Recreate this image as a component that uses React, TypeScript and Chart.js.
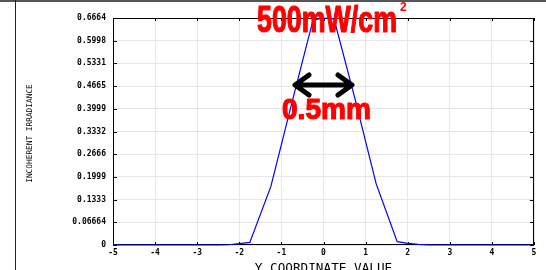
import React, { useEffect, useRef } from "react";
import { Chart, registerables } from "chart.js";

Chart.register(...registerables);

const xValues = [-5, -2.5, -2.25, -2, -1.75, -1.25, -0.75, -0.25, 0, 0.25, 0.75, 1.25, 1.75, 2, 2.25, 2.5, 5];
const irradiance = [0, 0, 0.0008, 0.004, 0.0075, 0.172, 0.418, 0.66, 0.6664, 0.664, 0.428, 0.18, 0.0097, 0.005, 0.002, 0.0005, 0];
const yTickValues = [0, 0.06664, 0.1333, 0.1999, 0.2666, 0.3332, 0.3999, 0.4665, 0.5331, 0.5998, 0.6664];
const yTickLabels = ["0", "0.06664", "0.1333", "0.1999", "0.2666", "0.3332", "0.3999", "0.4665", "0.5331", "0.5998", "0.6664"];
const yAxisTitle = "INCOHERENT IRRADIANCE";
const xAxisTitle = "Y COORDINATE VALUE";
const powerLabel = "500mW/cm";
const powerSup = "2";
const widthLabel = "0.5mm";

const tickFont = { family: "DejaVu Sans Mono", size: 8, weight: "bold" as const };

function drawFit(ctx: CanvasRenderingContext2D, text: string, x: number, y: number, size: number, target: number) {
  ctx.save();
  ctx.font = `bold ${size}px "Liberation Sans", Arial, sans-serif`;
  const w = ctx.measureText(text).width;
  ctx.translate(x, y);
  ctx.scale(target / w, 1);
  ctx.textAlign = "left";
  ctx.textBaseline = "alphabetic";
  ctx.lineWidth = 1.2;
  ctx.lineJoin = "round";
  ctx.strokeStyle = ctx.fillStyle as string;
  ctx.fillText(text, 0, 0);
  ctx.strokeText(text, 0, 0);
  ctx.restore();
}

const framePlugin = {
  id: "frame",
  beforeDatasetsDraw(chart: any) {
    const { ctx, chartArea } = chart;
    const { left, right, top, bottom } = chartArea;
    const xs = chart.scales.x;
    const ys = chart.scales.y;
    ctx.save();
    ctx.strokeStyle = "#000";
    ctx.lineWidth = 1;
    ctx.strokeRect(left + 0.5, top + 0.5, right - left - 1, bottom - top - 1);
    ctx.beginPath();
    xs.ticks.forEach((t: any) => {
      const px = Math.round(xs.getPixelForValue(t.value)) + 0.5;
      ctx.moveTo(px, top);
      ctx.lineTo(px, top + 3);
      ctx.moveTo(px, bottom);
      ctx.lineTo(px, bottom - 3);
    });
    ys.ticks.forEach((t: any) => {
      const py = Math.round(ys.getPixelForValue(t.value)) + 0.5;
      ctx.moveTo(left, py);
      ctx.lineTo(left + 4, py);
      ctx.moveTo(right, py);
      ctx.lineTo(right - 4, py);
    });
    ctx.stroke();
    ctx.restore();
  },
  afterDraw(chart: any) {
    const { ctx, chartArea } = chart;
    ctx.save();
    // outer frame
    ctx.fillStyle = "#555";
    ctx.fillRect(0, 0, chart.width, 2);
    ctx.strokeStyle = "#222";
    ctx.lineWidth = 1;
    ctx.beginPath();
    ctx.moveTo(15.5, 0);
    ctx.lineTo(15.5, chart.height);
    ctx.stroke();

    // axis titles
    ctx.fillStyle = "#000";
    ctx.font = `7.8px "DejaVu Sans Mono", monospace`;
    ctx.textAlign = "center";
    ctx.textBaseline = "middle";
    ctx.save();
    ctx.translate(30, (chartArea.top + chartArea.bottom) / 2 + 2);
    ctx.rotate(-Math.PI / 2);
    ctx.fillText(yAxisTitle, 0, 0);
    ctx.restore();
    ctx.font = `12.7px "DejaVu Sans Mono", monospace`;
    ctx.textBaseline = "alphabetic";
    ctx.fillText(xAxisTitle, (chartArea.left + chartArea.right) / 2, 272);

    // annotations
    ctx.fillStyle = "#ff0000";
    drawFit(ctx, powerLabel, 257, 31.5, 36, 140);
    ctx.font = `bold 12px "Liberation Sans", Arial, sans-serif`;
    ctx.textAlign = "left";
    ctx.fillText(powerSup, 400, 11);
    drawFit(ctx, widthLabel, 282, 118.5, 30, 89);

    ctx.strokeStyle = "#000";
    ctx.lineWidth = 5;
    ctx.lineCap = "round";
    ctx.lineJoin = "round";
    ctx.beginPath();
    ctx.moveTo(296, 85);
    ctx.lineTo(351, 85);
    ctx.moveTo(309, 75);
    ctx.lineTo(295, 85);
    ctx.lineTo(309, 95);
    ctx.moveTo(338, 75);
    ctx.lineTo(352, 85);
    ctx.lineTo(338, 95);
    ctx.stroke();
    ctx.restore();
  },
};

export default function App() {
  const ref = useRef<HTMLCanvasElement>(null);
  useEffect(() => {
    document.body.style.margin = "0";
    const canvas = ref.current;
    if (!canvas) return;
    const chart = new Chart(canvas, {
      type: "line",
      data: {
        datasets: [
          {
            data: xValues.map((x, i) => ({ x, y: irradiance[i] })),
            borderColor: "#0000ff",
            borderWidth: 1.2,
            pointRadius: 0,
            tension: 0,
            fill: false,
            clip: false as any,
          },
        ],
      },
      options: {
        responsive: false,
        animation: false,
        layout: { padding: { left: 0, right: 12, top: 18, bottom: 0 } },
        plugins: { legend: { display: false }, tooltip: { enabled: false } },
        scales: {
          x: {
            type: "linear",
            min: -5,
            max: 5,
            ticks: { stepSize: 1, font: tickFont, color: "#000", padding: 3, maxRotation: 0, callback: (v: any) => String(v) },
            grid: { color: "#e6e6e6", drawTicks: false },
            border: { display: false },
            afterFit: (s: any) => {
              s.height = 25;
            },
          },
          y: {
            type: "linear",
            min: 0,
            max: 0.6664,
            afterBuildTicks: (s: any) => {
              s.ticks = yTickValues.map((v) => ({ value: v }));
            },
            ticks: { font: tickFont, color: "#000", padding: 7, callback: (_v: any, i: number) => yTickLabels[i] },
            grid: { color: "#e6e6e6", drawTicks: false },
            border: { display: false },
            afterFit: (s: any) => {
              s.width = 113;
            },
          },
        },
      },
      plugins: [framePlugin],
    });
    return () => chart.destroy();
  }, []);
  return <canvas ref={ref} width={546} height={270} style={{ display: "block" }} />;
}
